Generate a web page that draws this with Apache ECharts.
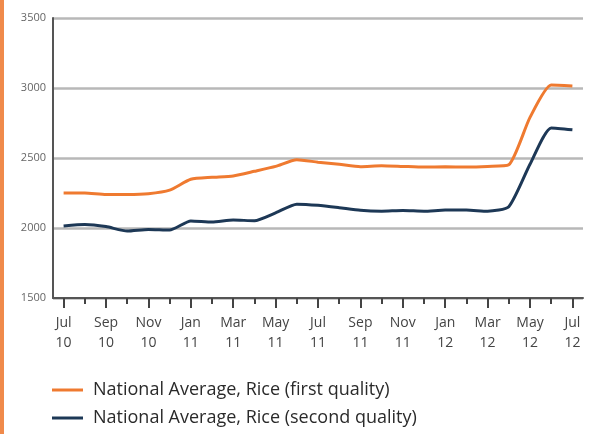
<!DOCTYPE html>
<html>
<head>
<meta charset="utf-8">
<script src="https://cdn.jsdelivr.net/npm/echarts@6/dist/echarts.min.js"></script>
<style>
  html, body { margin: 0; padding: 0; background: #fff; }
  #chart { width: 601px; height: 434px; }
</style>
</head>
<body>
<div id="chart"></div>
<script>
// months Jul 2010 - Jul 2012
const months = ['Jul\n10', 'Aug\n10', 'Sep\n10', 'Oct\n10', 'Nov\n10', 'Dec\n10',
  'Jan\n11', 'Feb\n11', 'Mar\n11', 'Apr\n11', 'May\n11', 'Jun\n11',
  'Jul\n11', 'Aug\n11', 'Sep\n11', 'Oct\n11', 'Nov\n11', 'Dec\n11',
  'Jan\n12', 'Feb\n12', 'Mar\n12', 'Apr\n12', 'May\n12', 'Jun\n12', 'Jul\n12']

const firstQuality = [2250, 2250, 2240, 2240, 2245, 2270, 2348, 2362, 2372, 2405, 2440, 2488,
  2470, 2455, 2438, 2445, 2440, 2435, 2437, 2435, 2440, 2452, 2790, 3022, 3015]

const secondQuality = [2015, 2025, 2010, 1978, 1990, 1985, 2050, 2042, 2057, 2052, 2108, 2170,
  2162, 2145, 2126, 2120, 2125, 2120, 2128, 2128, 2120, 2152, 2455, 2715, 2702]

const seriesNames = ['National Average, Rice (first quality)', 'National Average, Rice (second quality)']
const colors = ['#ef7a30', '#1d3856']

const myChart = echarts.init(document.getElementById('chart'))

const option = {
  animation: false,
  color: colors,
  textStyle: { fontFamily: 'Open Sans' },
  graphic: [
    { type: 'rect', left: 0, top: 0, shape: { width: 4, height: 434 }, style: { fill: '#f08a4b' } }
  ],
  grid: { left: 53, right: 18, top: 18, bottom: 136 },
  legend: {
    orient: 'vertical',
    left: 52,
    top: 381,
    padding: 0,
    itemWidth: 31,
    itemHeight: 3,
    itemGap: 10,
    icon: 'rect',
    data: seriesNames,
    textStyle: { fontSize: 18, color: '#2a2a2a', fontFamily: 'Open Sans', padding: [0, 0, 0, 5] }
  },
  xAxis: [
    {
      type: 'category',
      data: months,
      boundaryGap: true,
      axisLine: { show: true, lineStyle: { color: '#555', width: 2 } },
      axisTick: { show: true, alignWithLabel: true, interval: 1, length: 10, lineStyle: { color: '#444', width: 2 } },
      axisLabel: { interval: 1, margin: 15, color: '#444', fontSize: 14, lineHeight: 20 }
    },
    {
      type: 'category',
      data: months,
      boundaryGap: true,
      position: 'bottom',
      axisLine: { show: false },
      axisTick: { show: true, alignWithLabel: true, interval: 0, length: 6, lineStyle: { color: '#444', width: 2 } },
      axisLabel: { show: false }
    }
  ],
  yAxis: {
    type: 'value',
    min: 1500,
    max: 3500,
    interval: 500,
    axisLine: { show: true, lineStyle: { color: '#555', width: 2 } },
    axisTick: { show: false },
    axisLabel: { color: '#666', fontSize: 11, margin: 7, formatter: v => String(v) },
    splitLine: { lineStyle: { color: '#b8b8b8', width: 2.5 } }
  },
  series: [
    {
      name: seriesNames[0],
      type: 'line',
      data: firstQuality,
      smooth: 0.2,
      showSymbol: false,
      lineStyle: { width: 3 }
    },
    {
      name: seriesNames[1],
      type: 'line',
      data: secondQuality,
      smooth: 0.2,
      showSymbol: false,
      lineStyle: { width: 3 }
    }
  ]
}

myChart.setOption(option)
</script>
</body>
</html>
